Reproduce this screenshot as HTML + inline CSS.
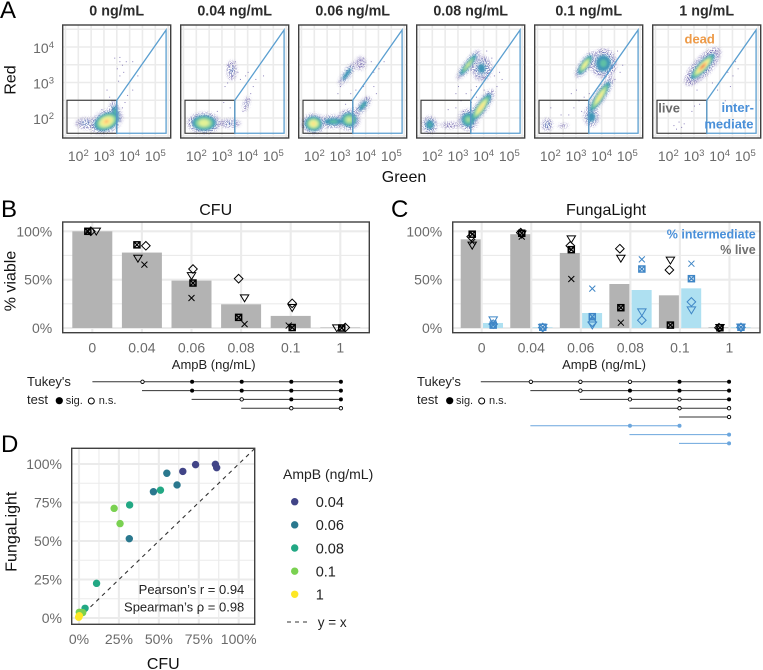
<!DOCTYPE html>
<html lang="en">
<head>
<meta charset="utf-8">
<title>AmpB viability: flow cytometry, CFU and FungaLight</title>
<style>
html,body{margin:0;padding:0;background:#fff;width:763px;height:670px;overflow:hidden}
svg{display:block;font-family:"Liberation Sans",sans-serif}
.lab{fill:#111;font-size:16px}
.tick{fill:#6a6a6a;font-size:14px}
.mid{text-anchor:middle}
.end{text-anchor:end}
.letter{fill:#000;font-size:24px}
.title{fill:#2b2b2b;font-size:14.3px;font-weight:bold;text-anchor:middle}
.small{fill:#222;font-size:13px}
.tiny{fill:#222;font-size:11px}
</style>
</head>
<body>
<svg id="fig" width="763" height="670" viewBox="0 0 763 670" xmlns="http://www.w3.org/2000/svg">
  <defs>
    <filter id="speckle" x="-30%" y="-30%" width="160%" height="160%" color-interpolation-filters="sRGB">
      <feGaussianBlur in="SourceGraphic" stdDeviation="1.6" result="b"/>
      <feTurbulence type="fractalNoise" baseFrequency="1.05" numOctaves="1" seed="4" result="n"/>
      <feColorMatrix in="n" type="matrix" values="0 0 0 0 0  0 0 0 0 0  0 0 0 0 0  0 0 0 9 -4.2" result="m"/>
      <feComposite in="b" in2="m" operator="in"/>
    </filter>
    <filter id="soft" x="-30%" y="-30%" width="160%" height="160%"><feGaussianBlur stdDeviation="1"/></filter>
  </defs>

  <text class="letter" x="0" y="18">A</text>
  <text class="letter" x="1" y="217">B</text>
  <text class="letter" x="391" y="217">C</text>
  <text class="letter" x="1" y="452">D</text>

  <text class="lab mid" transform="translate(15.5,80) rotate(-90)">Red</text>
  <text class="lab mid" x="404" y="182">Green</text>
  <g id="flow"></g>

  <text class="lab mid" x="215.7" y="215">CFU</text>
  <text class="lab mid" transform="translate(15.5,281) rotate(-90)">% viable</text>
  <text class="small mid" x="213.7" y="369">AmpB (ng/mL)</text>
  <g id="cfu"></g>

  <text class="lab mid" x="606" y="215">FungaLight</text>
  <text class="small mid" x="604" y="369">AmpB (ng/mL)</text>
  <g id="fl"></g>
  <text x="755.7" y="238.5" text-anchor="end" font-size="12.5" font-weight="bold" fill="#4a90d9">% intermediate</text>
  <text x="755.7" y="254" text-anchor="end" font-size="12.5" font-weight="bold" fill="#6f6f6f">% live</text>

  <text class="small" x="27" y="386">Tukey's</text>
  <text class="small" x="27" y="404">test</text>
  <circle cx="59.3" cy="400.7" r="3.6" fill="#000"/>
  <text class="tiny" x="65.7" y="404">sig.</text>
  <circle cx="91.3" cy="401" r="3" fill="#fff" stroke="#000" stroke-width="1"/>
  <text class="tiny" x="98.7" y="404">n.s.</text>
  <g id="tukeyB"></g>

  <text class="small" x="417" y="386">Tukey's</text>
  <text class="small" x="417" y="404">test</text>
  <circle cx="449.7" cy="400.7" r="3.6" fill="#000"/>
  <text class="tiny" x="456" y="404">sig.</text>
  <circle cx="481.7" cy="401" r="3" fill="#fff" stroke="#000" stroke-width="1"/>
  <text class="tiny" x="489" y="404">n.s.</text>
  <g id="tukeyC"></g>

  <text class="lab mid" transform="translate(16.5,531.7) rotate(-90)">FungaLight</text>
  <text class="lab mid" x="163.3" y="669">CFU</text>
  <g id="corr"></g>

  <text x="283" y="479" font-size="14" fill="#222">AmpB (ng/mL)</text>
  <g id="legend"></g>
  <line x1="287" y1="622" x2="310" y2="622" stroke="#333" stroke-width="1.1" stroke-dasharray="4 4"/>
  <text x="317.7" y="627" font-size="13.5" fill="#222">y = x</text>
</svg>

<script>
/* ---------- data ---------- */
const categories = ['0','0.04','0.06','0.08','0.1','1'];
const flowTitles = ['0 ng/mL','0.04 ng/mL','0.06 ng/mL','0.08 ng/mL','0.1 ng/mL','1 ng/mL'];
const flowXTicks = [2,3,4,5];
const flowYTicks = [2,3,4];
const flowGridLevels = [1.5,2,2.5,3,3.5,4,4.5,5,5.5];

/* density clusters: green log10, red log10, spread green, spread red, angle, peak */
const flowClusters0 = [
  [2.3,1.85,.24,.09,0,.12],
  [3.45,2.15,.09,.16,-15,.3],
  [3.1,1.9,.26,.12,-25,.88]
];
const flowClusters1 = [
  [3.38,3.34,.11,.17,0,.1],
  [3.95,2.4,.07,.14,15,.08],
  [3.3,1.85,.27,.07,0,.1],
  [2.3,1.86,.26,.12,0,.66]
];
const flowClusters2 = [
  [3.8,3.54,.22,.2,0,.04],
  [3.27,3.24,.26,.05,-55,.26],
  [3.9,2.35,.2,.06,-50,.28],
  [2.75,1.9,.3,.08,0,.3],
  [3.35,1.95,.18,.12,0,.55],
  [1.97,1.84,.18,.11,0,.78]
];
const flowClusters3 = [
  [2.7,1.8,.27,.06,0,.07],
  [3.92,3.4,.2,.18,0,.2],
  [3.4,3.5,.3,.05,-52,.55],
  [1.9,1.81,.14,.11,0,.28],
  [3.4,1.95,.17,.13,0,.42],
  [3.9,2.3,.33,.065,-55,.82]
];
const flowClusters4 = [
  [2.5,1.78,.22,.06,0,.04],
  [1.88,1.81,.12,.1,0,.12],
  [4.07,3.54,.24,.19,0,.3],
  [3.35,3.5,.24,.06,-55,.72],
  [3.6,2.03,.14,.13,0,.26],
  [3.93,2.6,.37,.06,-57,.76]
];
const flowClusters5 = [
  [3.34,3.45,.45,.12,-47,.3],
  [3.34,3.45,.32,.065,-47,1]
];
const flowClusterSets = [flowClusters0,flowClusters1,flowClusters2,flowClusters3,flowClusters4,flowClusters5];

/* sparse single events: green log10, red log10 */
const flowEvents0 = [[3.6,3.6],[3.7,3.5],[3.5,3.4],[3.85,3.6],[4.1,3.6],[3.6,3.2],[3.55,3.05],[3.75,3.3],[4.3,3.2],[3.1,2.8],[3.2,2.6],[4.1,2.8],[3.9,2.65],[3.7,2.3],[3.8,2.45],[3.4,3.7],[3.6,3.72],[2.9,2.25]];
const flowEvents1 = [[3.2,3.5],[3.5,3.6],[3.6,3.3],[3.7,3.1],[3.9,3.2],[4.3,3.1],[4.6,3.2],[3.2,3.0],[3.1,2.9],[4,3.3],[3.8,2.2],[4.1,2.7],[4.2,2.9],[3.3,2.3],[2.8,2.2],[3.05,2.45],[4.05,2.55]];
const flowEvents2 = [[3.9,3.7],[4.2,3.6],[4.3,3.3],[4.5,3.4],[4.7,3.6],[2.9,2.7],[3.0,2.9],[3.2,2.4],[3.4,2.7],[3.6,2.8],[3.9,2.9],[4.0,2.6],[4.3,2.9],[4.4,2.7],[3.1,2.2],[3.5,2.3]];
const flowEvents3 = [[2.9,2.7],[3.0,2.9],[3.3,2.7],[3.5,2.8],[3.7,2.9],[4.0,2.8],[3.1,2.5],[2.9,2.3],[3.2,2.2],[4.4,3.2],[4.6,3.3],[4.5,2.9],[4.7,3.1],[3.5,2.45],[3.7,2.6],[2.6,2.25],[4.3,3.7],[4.1,3.9]];
const flowEvents4 = [[2.8,2.7],[3.0,2.8],[3.1,2.5],[3.3,2.6],[3.5,2.7],[2.9,2.3],[2.7,2.1],[3.2,2.2],[3.4,2.3],[2.4,2.1],[2.0,2.3],[4.7,3.3],[4.8,3.5],[4.6,3.9],[4.5,3.1]];
const flowEvents5 = [[2.2,1.8],[2.4,1.9],[2.5,1.75],[2.3,1.7],[2.6,1.85],[2.9,2.2],[3.0,2.35],[3.2,2.4],[4.3,3.3],[4.5,3.2],[4.7,3.4],[4.4,2.9],[4.2,2.5],[3.9,2.8],[3.7,3],[4.6,3.6],[3.1,2.8],[2.9,2.95]];
const flowEventSets = [flowEvents0,flowEvents1,flowEvents2,flowEvents3,flowEvents4,flowEvents5];

/* panel B */
const percentTicks = [0,50,100];
const cfuBars = [100,78,49,24.5,12.5,0.5];
const cfuSquare = [100,86,46.5,11,0.5,0];
const cfuSquareJitter = [-.09,-.1,.03,-.05,.03,.03];
const cfuDiamond = [100,85,61,51,25.5,0.5];
const cfuDiamondJitter = [-.03,.08,.03,-.05,.03,.1];
const cfuTriangle = [100,72,54,31,21,0];
const cfuTriangleJitter = [.08,-.08,0,.07,.03,-.07];
const cfuCross = [100,65.5,31,4,2.5,0];
const cfuCrossJitter = [-.08,.05,0,.07,-.04,.03];

/* panel C */
const liveBars = [91.7,97,77.6,45.5,33.8,0.7];
const intermediateBars = [5.2,0.7,15.5,39.3,41,0.7];
const liveSquare = [97,98,81,21,3,0.3];
const liveDiamond = [94.5,98.6,85,82,60,0.3];
const liveTriangle = [85.5,97,92,72,70,0.3];
const liveCross = [89,94.5,50.7,5.5,3,0.3];
const interSquare = [3,0.8,11.7,61,51,0.8];
const interDiamond = [4,0.5,6,8,27,0.6];
const interTriangle = [8.3,0.5,3,16.5,18.6,0.7];
const interCross = [5,1,40.7,71,66.5,1];

/* Tukey tables: first compared group and per-group result */
const tukeyCfuFrom = [0,1,2,3];
const tukeyCfuResults = [
  ['','ns','sig','sig','sig','sig'],
  ['','','sig','sig','sig','sig'],
  ['','','','ns','sig','sig'],
  ['','','','','ns','ns']
];
const tukeyFlFrom = [0,1,2,3,4,1,3,4];
const tukeyFlResults = [
  ['','ns','ns','ns','sig','sig'],
  ['','','ns','sig','sig','sig'],
  ['','','','ns','ns','sig'],
  ['','','','','ns','ns'],
  ['','','','','','ns'],
  ['','','','blue','blue',''],
  ['','','','','','blue'],
  ['','','','','','blue']
];

/* panel D */
const corrTicks = [0,25,50,75,100];
const corrGroups = ['0.04','0.06','0.08','0.1','1'];
const corrColors = ['#414487','#2a788e','#22a884','#7ad151','#fde725'];
const corrCfu004 = [65,73,85.4,86.2];
const corrFl004 = [95.2,99.6,99.8,97.6];
const corrCfu006 = [55,61.4,46.6,31.5];
const corrFl006 = [94,86.4,82,51.5];
const corrCfu008 = [51,31.7,11,3.8];
const corrFl008 = [83,73.4,22.5,6.3];
const corrCfu01 = [22,25.7,2.3,0.2];
const corrFl01 = [71.2,61.3,3.5,3.7];
const corrCfu1 = [0,-0.2,0.2,0];
const corrFl1 = [0.9,0.5,1.5,1];
const corrXSeries = [corrCfu004,corrCfu006,corrCfu008,corrCfu01,corrCfu1];
const corrYSeries = [corrFl004,corrFl006,corrFl008,corrFl01,corrFl1];

/* ---------- helpers ---------- */
const NS = 'http://www.w3.org/2000/svg';
function make(tag, attrs, parent){
  const e = document.createElementNS(NS, tag);
  for (const k in attrs) e.setAttribute(k, attrs[k]);
  parent.appendChild(e);
  return e;
}
const GRID = '#ebebeb';
const FRAME = '#404040';
function diamondPts(x,y,r){return (x)+','+(y-r)+' '+(x+r)+','+y+' '+x+','+(y+r)+' '+(x-r)+','+y;}
function trianglePts(x,y,r){return (x-r)+','+(y-r*0.75)+' '+(x+r)+','+(y-r*0.75)+' '+x+','+(y+r*0.9);}

function drawMarker(kind, px, py, color, parent, label){
  const g = make('g', {fill:'none', stroke:color, 'stroke-width':1}, parent);
  
  
  if (kind === 'diamond') {
    make('polygon', {points:diamondPts(px,py,4.3)}, g);
  } else if (kind === 'triangle') {
    make('polygon', {points:trianglePts(px,py,4.2)}, g);
  } else if (kind === 'cross') {
    make('path', {d:'M'+(px-3)+' '+(py-3)+'L'+(px+3)+' '+(py+3)+'M'+(px+3)+' '+(py-3)+'L'+(px-3)+' '+(py+3)}, g);
  } else {
    make('rect', {x:px-3, y:py-3, width:6, height:6, 'stroke-width':1.5}, g);
    make('path', {d:'M'+(px-3)+' '+(py-3)+'L'+(px+3)+' '+(py+3)+'M'+(px+3)+' '+(py-3)+'L'+(px-3)+' '+(py+3), 'stroke-width':1.3}, g);
  }
}

/* ---------- panel A ---------- */
const flowRoot = document.getElementById('flow');
const levelThresholds = [.025,.07,.16,.26,.38,.52,.7,.86,.97];
const levelColors = ['#5e4fa2','#4a6fb3','#3f96b7','#5fc0a5','#a6db9f','#e3f296','#fde48b','#fca55d','#d8434e'];
const flowY = r => 118 - (r - 2) * 35.5;
flowTitles.forEach(function(title, p){
  const left = 62.7 + p * 118;
  const flowX = g => left + 15.6 + (g - 2) * 25.67;
  const panel = make('g', {}, flowRoot);
  
  
  const t = make('text', {x:left + 54, y:15.5, class:'title'}, panel);
  
  
  t.textContent = title;
  const clipId = 'flowclip' + p;
  const defsClip = make('clipPath', {id:clipId}, panel);
  make('rect', {x:left, y:25, width:108, height:113}, defsClip);
  const grid = make('g', {stroke:GRID, 'stroke-width':1.6, 'clip-path':'url(#'+clipId+')'}, panel);
  
  
  flowGridLevels.forEach(function(v){
    make('line', {x1:flowX(v), x2:flowX(v), y1:25, y2:138}, grid);
    make('line', {x1:left, x2:left+108, y1:flowY(v), y2:flowY(v)}, grid);
  });
  const cloud = make('g', {'clip-path':'url(#'+clipId+')'}, panel);
  
  
  const halo = make('g', {filter:'url(#speckle)', opacity:.85}, cloud);
  const core = make('g', {filter:'url(#soft)'}, cloud);
  flowClusterSets[p].forEach(function(c){
    const cx = flowX(c[0]), cy = flowY(c[1]);
    levelThresholds.forEach(function(th, i){
      if (th >= c[5]) return;
      const f = Math.sqrt(2 * Math.log(c[5] / th)) * (i < 2 ? 0.95 : 1.05);
      make('ellipse', {cx:cx, cy:cy, rx:f * c[2] * 25.67, ry:f * c[3] * 35.5,
        transform:'rotate(' + c[4] + ' ' + cx + ' ' + cy + ')', fill:levelColors[i]}, i < 2 ? halo : core);
    });
  });
  const dots = make('g', {fill:'#5e4fa2', opacity:.7}, cloud);
  
  
  flowEventSets[p].forEach(function(ev){
    make('rect', {x:flowX(ev[0]), y:flowY(ev[1]), width:1, height:1}, dots);
  });
  const gateDead = make('rect', {x:flowX(1.56), y:flowY(2.5), width:flowX(3.5)-flowX(1.56), height:flowY(1.57)-flowY(2.5), fill:'none', stroke:'#333', 'stroke-width':1.1}, panel);
  
  
  const gateBlue = make('polygon', {points:flowX(3.5)+','+flowY(2.5)+' '+flowX(5.42)+','+flowY(4.48)+' '+flowX(5.42)+','+flowY(1.57)+' '+flowX(3.5)+','+flowY(1.57), fill:'none', stroke:'#5b9fd0', 'stroke-width':1.3}, panel);
  
  
  const frame = make('rect', {x:left, y:25, width:108, height:113, fill:'none', stroke:FRAME, 'stroke-width':1.4}, panel);
  
  
  flowXTicks.forEach(function(v){
    const tx = make('text', {x:flowX(v), y:161, class:'tick mid'}, panel);
    
    
    tx.textContent = '10';
    const sup = make('tspan', {dy:-5, 'font-size':9.5}, tx);
    sup.textContent = v;
  });
  if (p === 0) flowYTicks.forEach(function(v){
    const ty = make('text', {x:54, y:flowY(v) + 6, class:'tick end'}, panel);
    
    
    ty.textContent = '10';
    const sup = make('tspan', {dy:-5, 'font-size':9.5}, ty);
    sup.textContent = v;
  });
});
(function(){
  const labels = [['dead',699.7,43.3,'middle','#ed9a47'],['live',658.3,112.7,'start','#6a6a6a'],['inter-',754,112,'end','#4a90d9'],['mediate',753.5,128.3,'end','#4a90d9']];
  labels.forEach(function(l){
    const t = make('text', {x:l[1], y:l[2], 'text-anchor':l[3], fill:l[4], 'font-size':13, 'font-weight':'bold'}, flowRoot);
    
    
    t.textContent = l[0];
  });
})();

/* ---------- panels B & C ---------- */
const barY = v => 328 - v * 0.967;
function barAxes(root, left, right, catX, showLabels, prefix){
  const grid = make('g', {stroke:GRID}, root);
  
  
  [25,75].forEach(function(v){ make('line', {x1:left, x2:right, y1:barY(v), y2:barY(v), 'stroke-width':1.1}, grid); });
  percentTicks.forEach(function(v){ make('line', {x1:left, x2:right, y1:barY(v), y2:barY(v), 'stroke-width':2.1}, grid); });
  categories.forEach(function(c, i){ make('line', {x1:catX(i), x2:catX(i), y1:222, y2:333, 'stroke-width':2.1}, grid); });
  percentTicks.forEach(function(v){
    const t = make('text', {x:left - 10.5, y:barY(v) + 5, class:'tick end'}, root);
    
    
    t.textContent = v + '%';
  });
  categories.forEach(function(c, i){
    const t = make('text', {x:catX(i), y:352.7, class:'tick mid'}, root);
    
    
    t.textContent = c;
  });
}
function drawFrame(root, left, right, top, bottom, name){
  const f = make('rect', {x:left, y:top, width:right-left, height:bottom-top, fill:'none', stroke:FRAME, 'stroke-width':1.4}, root);
  
  
}
const cfuRoot = document.getElementById('cfu');
const cfuX = i => 92.3 + i * 49.6;
barAxes(cfuRoot, 62.7, 369.3, cfuX, true, 'cfu');
cfuBars.forEach(function(v, i){
  const b = make('rect', {x:cfuX(i)-20, y:barY(v), width:40, height:v*0.967, fill:'#b3b3b3'}, cfuRoot);
  
  
});
categories.forEach(function(c, i){
  drawMarker('triangle', cfuX(i)+cfuTriangleJitter[i]*49.6, barY(cfuTriangle[i]), '#000', cfuRoot, 'cfu-replicate');
  drawMarker('diamond', cfuX(i)+cfuDiamondJitter[i]*49.6, barY(cfuDiamond[i]), '#000', cfuRoot, 'cfu-replicate');
  drawMarker('cross', cfuX(i)+cfuCrossJitter[i]*49.6, barY(cfuCross[i]), '#000', cfuRoot, 'cfu-replicate');
  drawMarker('square', cfuX(i)+cfuSquareJitter[i]*49.6, barY(cfuSquare[i]), '#000', cfuRoot, 'cfu-replicate');
});
drawFrame(cfuRoot, 62.7, 369.3, 222, 332.7, 'cfu-frame');

const flRoot = document.getElementById('fl');
const flX = i => 481.7 + i * 49.55;
barAxes(flRoot, 452.7, 760, flX, true, 'fungalight');
categories.forEach(function(c, i){
  const a = make('rect', {x:flX(i)-21, y:barY(liveBars[i]), width:20, height:liveBars[i]*0.967, fill:'#b3b3b3'}, flRoot);
  
  
  const b = make('rect', {x:flX(i)+1.3, y:barY(intermediateBars[i]), width:20, height:intermediateBars[i]*0.967, fill:'#aee0f1'}, flRoot);
  
  
});
categories.forEach(function(c, i){
  const lx = flX(i) - 10.5, rx = flX(i) + 11.5;
  drawMarker('triangle', lx + 1, barY(liveTriangle[i]), '#000', flRoot, 'live-replicate');
  drawMarker('diamond', lx, barY(liveDiamond[i]), '#000', flRoot, 'live-replicate');
  drawMarker('cross', lx + 1, barY(liveCross[i]), '#000', flRoot, 'live-replicate');
  drawMarker('square', lx + 1, barY(liveSquare[i]), '#000', flRoot, 'live-replicate');
  drawMarker('triangle', rx, barY(interTriangle[i]), '#3f86c6', flRoot, 'intermediate-replicate');
  drawMarker('diamond', rx, barY(interDiamond[i]), '#3f86c6', flRoot, 'intermediate-replicate');
  drawMarker('cross', rx, barY(interCross[i]), '#3f86c6', flRoot, 'intermediate-replicate');
  drawMarker('square', rx, barY(interSquare[i]), '#3f86c6', flRoot, 'intermediate-replicate');
});
drawFrame(flRoot, 452.7, 760, 222, 332.7, 'fungalight-frame');

/* ---------- Tukey rows ---------- */
function drawTukey(root, fromList, rows, catX, shift, prefix){
  rows.forEach(function(row, r){
    const y = 381.8 + r * 8.8;
    const blue = row.indexOf('blue') >= 0;
    let last = 0;
    row.forEach(function(s, i){ if (s) last = i; });
    const ln = make('line', {x1:catX(fromList[r]) + shift - 0.5, x2:catX(last) + shift, y1:y, y2:y, stroke: blue ? '#6ba6dd' : '#333', 'stroke-width':1}, root);
    
    
    row.forEach(function(s, i){
      if (!s) return;
      const d = make('circle', {cx:catX(i) + shift, cy:y, r: s === 'ns' ? 1.7 : 2,
        fill: s === 'ns' ? '#fff' : (s === 'blue' ? '#6ba6dd' : '#000'),
        stroke: s === 'ns' ? '#000' : 'none', 'stroke-width':.9}, root);
      
      
    });
  });
}
drawTukey(document.getElementById('tukeyB'), tukeyCfuFrom, tukeyCfuResults, cfuX, 0.6, 'tukey-cfu');
drawTukey(document.getElementById('tukeyC'), tukeyFlFrom, tukeyFlResults, flX, -0.4, 'tukey-fungalight');

/* ---------- panel D ---------- */
const corrRoot = document.getElementById('corr');
const corrX = v => 79 + v * 1.597;
const corrY = v => 618 - v * 1.54;
(function(){
  const grid = make('g', {stroke:GRID}, corrRoot);
  
  
  [12.5,37.5,62.5,87.5].forEach(function(v){
    make('line', {x1:corrX(v), x2:corrX(v), y1:448.3, y2:624.3, 'stroke-width':1.1}, grid);
    make('line', {x1:71.7, x2:254.7, y1:corrY(v), y2:corrY(v), 'stroke-width':1.1}, grid);
  });
  corrTicks.forEach(function(v){
    make('line', {x1:corrX(v), x2:corrX(v), y1:448.3, y2:624.3, 'stroke-width':2.1}, grid);
    make('line', {x1:71.7, x2:254.7, y1:corrY(v), y2:corrY(v), 'stroke-width':2.1}, grid);
    const ty = make('text', {x:62, y:corrY(v) + 5, class:'tick end'}, corrRoot);
    
    
    ty.textContent = v + '%';
    const tx = make('text', {x:corrX(v), y:644, class:'tick mid'}, corrRoot);
    
    
    tx.textContent = v + '%';
  });
  const clip = make('clipPath', {id:'corrclip'}, corrRoot);
  make('rect', {x:71.7, y:448.3, width:183, height:176}, clip);
  const identity = make('line', {x1:corrX(0), y1:corrY(0), x2:corrX(115), y2:corrY(115), stroke:'#333', 'stroke-width':1.1, 'stroke-dasharray':'4 4', 'clip-path':'url(#corrclip)'}, corrRoot);
  
  
  corrGroups.forEach(function(g, s){
    corrXSeries[s].forEach(function(v, i){
      const c = make('circle', {cx:corrX(v), cy:corrY(corrYSeries[s][i]), r:3.7, fill:corrColors[s]}, corrRoot);
      
      
    });
  });
  const s1 = make('text', {x:244.3, y:594, 'text-anchor':'end', class:'small'}, corrRoot);
  
  
  s1.textContent = 'Pearson\u2019s r = 0.94';
  const s2 = make('text', {x:244.3, y:611.7, 'text-anchor':'end', class:'small'}, corrRoot);
  
  
  s2.textContent = 'Spearman\u2019s \u03C1 = 0.98';
  drawFrame(corrRoot, 71.7, 254.7, 448.3, 624.3, 'correlation-frame');

  const legend = document.getElementById('legend');
  corrGroups.forEach(function(g, s){
    const y = 501.7 + s * 23.15;
    const c = make('circle', {cx:294.7, cy:y, r:3.7, fill:corrColors[s]}, legend);
    
    
    const t = make('text', {x:315.7, y:y + 5.3, 'font-size':14.5, fill:'#222'}, legend);
    
    
    t.textContent = g;
  });
})();
</script>
</body>
</html>
